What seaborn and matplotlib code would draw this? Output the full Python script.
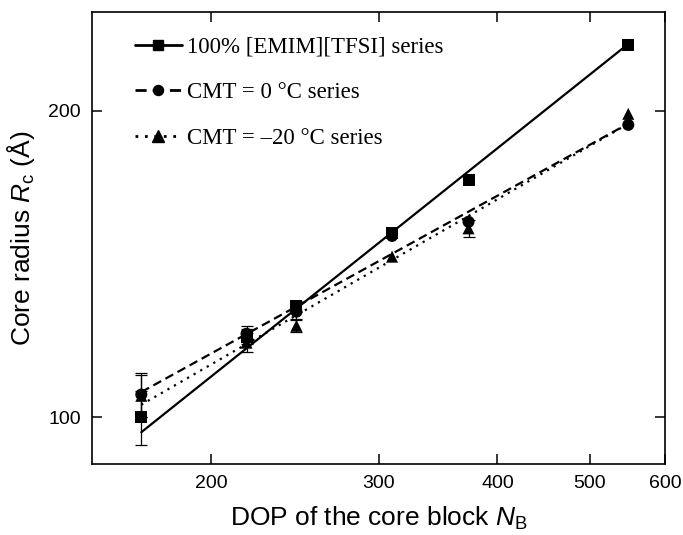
import numpy as np
import pandas as pd
import matplotlib
matplotlib.use("Agg")
import matplotlib.pyplot as plt
from matplotlib.lines import Line2D
from matplotlib.ticker import FixedLocator, FixedFormatter, NullLocator
import seaborn as sns

# Degree of polymerisation of the core block
dop = [169, 218, 246, 310, 373, 549]

series_names = ["100% [EMIM][TFSI] series", "CMT = 0 °C series", "CMT = –20 °C series"]

# Core radius (Å) per series
rc_emim = [100.0, 120.0, 128.5, 151.8, 171.1, 231.9]
rc_cmt0 = [105.3, 120.8, 127.0, 150.7, 155.6, 193.7]
rc_cmt_m20 = [105.0, 118.4, 123.0, 143.8, 153.3, 198.6]

# Error bars (Å)
err_emim = [6.1, 2.0, 1.5, 0.0, 0.0, 0.0]
err_cmt0 = [5.3, 2.2, 2.5, 0.0, 0.0, 0.0]
err_cmt_m20 = [5.0, 2.6, 1.8, 0.0, 3.0, 0.0]

# Power-law fits R = R0 * (N / N0)^nu, with N0 the smallest DOP
fit_nu = [0.745, 0.515, 0.539]
fit_r0 = [96.7, 105.9, 102.9]

x_ticks = [200, 300, 400, 500, 600]
y_ticks = [100, 200]

sns.set_theme(style="ticks")
plt.rcParams["font.family"] = ["Liberation Sans", "DejaVu Sans"]
plt.rcParams["mathtext.fontset"] = "custom"
plt.rcParams["mathtext.rm"] = "Liberation Sans"
plt.rcParams["mathtext.it"] = "Liberation Sans:italic"
plt.rcParams["text.color"] = "black"
plt.rcParams["axes.labelcolor"] = "black"

fig = plt.figure(figsize=(6.83, 5.35), dpi=100)
ax = fig.add_axes([92 / 683, 1 - 464 / 535, (665 - 92) / 683, (464 - 12) / 535])

markers = ["s", "o", "^"]
msizes = [8.5, 8.5, 9.5]
dashes = [(None, None), (4.0, 2.2), (1.0, 2.4)]

pts = pd.DataFrame({
    "dop": dop * 3,
    "rc": rc_emim + rc_cmt0 + rc_cmt_m20,
    "err": err_emim + err_cmt0 + err_cmt_m20,
    "series": np.repeat(series_names, len(dop)),
})

# fitted curves
n_fit = np.geomspace(dop[0], dop[-1], 50)
fit_rows = []
for name, nu, r0 in zip(series_names, fit_nu, fit_r0):
    fit_rows.append(pd.DataFrame({"dop": n_fit, "rc": r0 * (n_fit / dop[0]) ** nu, "series": name}))
fits = pd.concat(fit_rows, ignore_index=True)

for name, d in zip(series_names, dashes):
    sub = fits[fits["series"] == name]
    ln, = ax.plot(sub["dop"], sub["rc"], color="black", lw=1.6, zorder=2)
    if d[0] is not None:
        ln.set_dashes(d)

# error bars
for name in series_names:
    sub = pts[(pts["series"] == name) & (pts["err"] > 0)]
    ax.errorbar(sub["dop"], sub["rc"], yerr=sub["err"], fmt="none", ecolor="black",
                elinewidth=0.9, capsize=4.3, capthick=0.9, zorder=3)

sns.scatterplot(data=pts, x="dop", y="rc", style="series", markers=dict(zip(series_names, markers)),
                color="black", s=75, linewidth=0, legend=False, ax=ax, zorder=4)

ax.set_xscale("log")
ax.set_yscale("log")
ax.set_xlim(150, 600)
ax.set_ylim(90, 250)
ax.xaxis.set_major_locator(FixedLocator(x_ticks))
ax.xaxis.set_major_formatter(FixedFormatter([str(t) for t in x_ticks]))
ax.xaxis.set_minor_locator(NullLocator())
ax.yaxis.set_major_locator(FixedLocator(y_ticks))
ax.yaxis.set_major_formatter(FixedFormatter([str(t) for t in y_ticks]))
ax.yaxis.set_minor_locator(NullLocator())

ax.tick_params(which="major", direction="in", length=7, width=1.1, top=True, right=True,
               labelsize=14, pad=8, color="black", labelcolor="black")
for sp in ax.spines.values():
    sp.set_linewidth(1.2)
    sp.set_color("black")

ax.set_xlabel(r"DOP of the core block $\mathit{N}_{\mathrm{B}}$", fontsize=19, labelpad=9)
ax.set_ylabel(r"Core radius $\mathit{R}_{\mathrm{c}}$ (Å)", fontsize=19, labelpad=8)

handles = []
for name, m, ms, d in zip(series_names, markers, msizes, dashes):
    h = Line2D([0], [0], color="black", lw=2.0, marker=m, markersize=ms * 0.85,
               markerfacecolor="black", markeredgecolor="black")
    if d[0] is not None:
        h.set_dashes(d)
    handles.append(h)
leg = ax.legend(handles=handles, labels=series_names, loc="upper left",
                bbox_to_anchor=(0.047, 0.981), frameon=False, handlelength=2.05,
                handletextpad=0.2, labelspacing=1.08, borderpad=0.2,
                prop={"family": "Liberation Serif", "size": 16.5})

fig.savefig("out.png", dpi=100, facecolor="white")
